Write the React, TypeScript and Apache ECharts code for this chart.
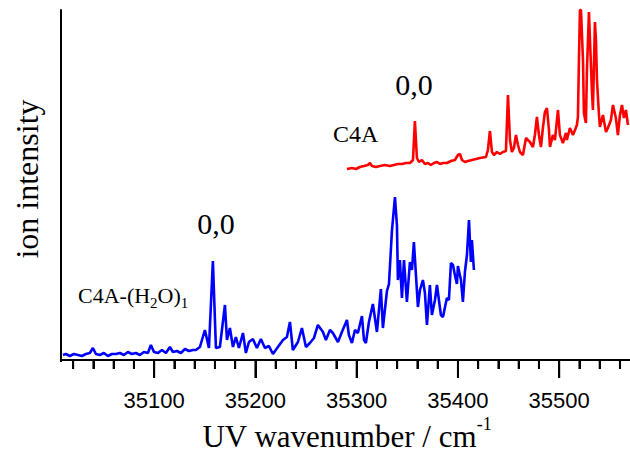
import React, { useEffect, useRef } from "react";
import * as echarts from "echarts";

// C4A-(H2O)1 cluster spectrum (blue)
const blueWavenumber = [
  35009.9, 35012.8, 35016.8, 35020.7, 35024.7, 35028.6, 35032.6, 35036.5, 35039.5, 35042.5,
  35046.4, 35050.4, 35054.3, 35058.3, 35062.2, 35066.2, 35070.1, 35074.1, 35078.0, 35082.0,
  35085.9, 35089.9, 35093.8, 35096.8, 35099.8, 35103.7, 35107.7, 35111.6, 35115.6, 35118.5,
  35122.5, 35126.4, 35130.4, 35134.3, 35138.3, 35141.2, 35145.2, 35150.1, 35154.1, 35158.0,
  35161.0, 35164.9, 35169.9, 35171.9, 35174.8, 35177.8, 35180.7, 35183.7, 35187.7, 35190.6,
  35193.6, 35197.5, 35201.5, 35205.4, 35209.4, 35213.3, 35217.3, 35222.2, 35227.2, 35231.1,
  35234.1, 35237.0, 35242.0, 35245.9, 35249.9, 35253.8, 35257.8, 35261.7, 35266.7, 35269.6,
  35273.6, 35276.5, 35281.5, 35285.4, 35290.4, 35292.3, 35295.3, 35298.3, 35301.2, 35305.2,
  35307.2, 35309.1, 35312.1, 35316.0, 35320.0, 35323.9, 35325.9, 35329.9, 35331.9, 35334.8,
  35337.8, 35339.8, 35340.7, 35342.7, 35344.7, 35346.7, 35349.6, 35352.6, 35354.6, 35356.5,
  35360.5, 35362.5, 35365.4, 35367.4, 35369.4, 35372.3, 35374.3, 35377.3, 35379.3, 35381.2,
  35383.2, 35385.2, 35389.1, 35391.1, 35393.1, 35395.1, 35397.0, 35399.0, 35400.0, 35403.0,
  35404.9, 35406.9, 35408.9, 35410.9, 35412.8, 35413.8, 35415.8,
];
const blueIntensity = [
  5, 6, 4, 6, 5, 4, 6, 7, 12, 6,
  5, 7, 4, 6, 6, 7, 5, 8, 6, 7,
  5, 8, 7, 15, 8, 7, 10, 7, 13, 8,
  9, 7, 11, 9, 10, 10, 13, 30, 12, 99,
  12, 13, 55, 20, 32, 13, 23, 12, 27, 7,
  18, 21, 12, 21, 12, 14, 6, 13, 20, 23,
  38, 10, 18, 32, 13, 17, 22, 35, 28, 20,
  30, 27, 18, 28, 40, 25, 17, 30, 27, 44,
  20, 17, 38, 56, 28, 71, 32, 69, 76, 129,
  163, 134, 80, 100, 62, 100, 58, 98, 90, 118,
  53, 70, 80, 67, 35, 75, 45, 60, 75, 60,
  45, 43, 62, 60, 97, 95, 85, 76, 94, 80,
  58, 88, 105, 140, 98, 120, 90,
];

// C4A monomer spectrum (red), drawn above the cluster trace
const redWavenumber = [
  35290.4, 35295.3, 35299.3, 35303.2, 35307.2, 35311.1, 35313.1, 35315.1, 35319.0, 35323.0,
  35327.9, 35332.8, 35336.8, 35340.7, 35344.7, 35348.6, 35352.6, 35355.6, 35357.5, 35359.5,
  35361.5, 35364.4, 35367.4, 35370.4, 35373.3, 35376.3, 35379.3, 35382.2, 35385.2, 35389.1,
  35393.1, 35397.0, 35400.0, 35402.0, 35404.0, 35406.9, 35409.9, 35413.8, 35417.8, 35421.7,
  35427.7, 35429.6, 35431.6, 35433.6, 35435.6, 35438.5, 35441.5, 35444.4, 35447.4, 35449.4,
  35451.4, 35453.3, 35455.3, 35457.3, 35459.3, 35461.2, 35464.2, 35467.2, 35469.1, 35471.1,
  35474.1, 35476.0, 35478.0, 35480.0, 35482.0, 35483.9, 35485.9, 35487.9, 35489.9, 35490.9,
  35493.8, 35495.8, 35498.8, 35500.7, 35503.7, 35506.7, 35507.6, 35510.6, 35513.6, 35515.6,
  35517.5, 35518.5, 35519.5, 35520.5, 35521.5, 35523.5, 35524.4, 35526.4, 35527.4, 35529.4,
  35530.4, 35532.3, 35533.3, 35535.3, 35536.3, 35537.3, 35539.3, 35540.2, 35543.2, 35546.2,
  35548.1, 35551.1, 35553.1, 35556.0, 35558.0, 35560.0, 35562.0, 35563.9, 35565.9, 35567.9,
];
const redIntensity = [
  191, 192, 191, 193, 194, 195, 197, 194, 193, 194,
  195, 194, 195, 196, 196, 197, 197, 200, 239, 202,
  198, 200, 196, 197, 195, 197, 198, 196, 197, 197,
  199, 200, 205, 206, 200, 198, 199, 200, 201, 202,
  203, 210, 229, 208, 205, 208, 206, 208, 209, 265,
  220, 208, 212, 225, 215, 208, 205, 222, 220, 218,
  213, 225, 243, 225, 213, 232, 248, 252, 230, 213,
  225, 220, 250, 225, 217, 227, 220, 232, 225, 230,
  235, 243, 300, 350, 350, 300, 247, 237, 290, 348,
  320, 270, 250, 338, 320, 280, 245, 233, 245, 228,
  232, 240, 255, 242, 225, 245, 255, 242, 250, 235,
];

// x-axis ticks: labelled majors every 100 cm-1, minors every 20 cm-1
const X_TICKS = [35100, 35200, 35300, 35400, 35500];
const X_MINOR_STEP = 20;
const X_MIN = 35008;
const X_MAX = 35580;
const Y_MAX = 350;

const MAJOR_LEN = 18;
const MINOR_LEN = 9;

const SERIF = '"Liberation Serif", "Times New Roman", serif';
const SANS = '"Liberation Sans", Arial, sans-serif';

const pairs = (xs: number[], ys: number[]) => xs.map((x, i) => [x, ys[i]]);

function tickValues() {
  const out: number[][] = [];
  const start = Math.ceil(X_MIN / X_MINOR_STEP) * X_MINOR_STEP;
  for (let v = start; v < X_MAX; v += X_MINOR_STEP) out.push([v, 0]);
  return out;
}

function textEl(text: string, x: number, y: number, size: number, extra: any = {}) {
  const { style: extraStyle, align, ...rest } = extra;
  return {
    type: "text",
    x,
    y,
    silent: true,
    ...rest,
    style: {
      text,
      fontSize: size,
      fontFamily: SERIF,
      fill: "#000",
      align: align ?? "center",
      verticalAlign: "middle",
      textAlign: align ?? "center",
      textVerticalAlign: "middle",
      ...(extraStyle || {}),
    },
  };
}

export default function App() {
  const ref = useRef<HTMLDivElement>(null);

  useEffect(() => {
    document.body.style.margin = "0";
    if (!ref.current) return;
    const chart = echarts.init(ref.current, null, { renderer: "svg" });

    chart.setOption({
      animation: false,
      grid: {
        left: 61,
        top: 10,
        right: -10.2,
        bottom: 94,
        containLabel: false,
        outerBoundsMode: "none",
      },
      xAxis: {
        type: "value",
        min: X_MIN,
        max: X_MAX,
        splitNumber: 5,
        axisLine: { show: true, lineStyle: { color: "#000", width: 2 } },
        axisTick: { show: true, length: MAJOR_LEN, lineStyle: { color: "#000", width: 2 } },
        minorTick: { show: true, splitNumber: 5, length: MINOR_LEN, lineStyle: { color: "#000", width: 2 } },
        axisLabel: {
          showMinLabel: false,
          showMaxLabel: false,
          margin: 29,
          color: "#000",
          fontSize: 22,
          fontFamily: SANS,
          formatter: (v: number) => String(v),
        },
        splitLine: { show: false },
        minorSplitLine: { show: false },
      },
      yAxis: {
        type: "value",
        min: 0,
        max: Y_MAX,
        axisLine: { show: true, lineStyle: { color: "#000", width: 2 } },
        axisTick: { show: false },
        axisLabel: { show: false },
        splitLine: { show: false },
      },
      series: [
        {
          name: "C4A-(H2O)1",
          type: "line",
          data: pairs(blueWavenumber, blueIntensity),
          showSymbol: false,
          clip: false,
          lineStyle: { color: "#0000ff", width: 2.6 },
          itemStyle: { color: "#0000ff" },
        },
        {
          name: "C4A",
          type: "line",
          data: pairs(redWavenumber, redIntensity),
          showSymbol: false,
          clip: false,
          lineStyle: { color: "#ff0000", width: 2.6 },
          itemStyle: { color: "#ff0000" },
        },
        {
          // tick marks hanging below the x axis, at the same places as the axis ticks
          type: "custom",
          clip: false,
          silent: true,
          data: tickValues(),
          renderItem: (_params: any, api: any) => {
            const v = api.value(0);
            const p = api.coord([v, 0]);
            const len = X_TICKS.includes(v) ? MAJOR_LEN : MINOR_LEN;
            return {
              type: "line",
              shape: { x1: p[0], y1: p[1], x2: p[0], y2: p[1] + len },
              style: { stroke: "#000", lineWidth: 2 },
            };
          },
        },
      ],
      graphic: [
        // hide the extent tick that sits under the y spine
        { type: "rect", shape: { x: 58, y: 362, width: 6, height: 20 }, style: { fill: "#fff" }, z: 100, silent: true },
        // axis titles
        textEl("ion intensity", 27, 179, 32, { rotation: Math.PI / 2 }),
        textEl("UV wavenumber / cm{sup|-1}", 347, 436, 31, {
          style: { rich: { sup: { fontSize: 18, fontFamily: SERIF, fill: "#000", padding: [0, 0, 24, 0] } } },
        }),
        // band origin markers and trace labels
        textEl("0,0", 216, 223, 30),
        textEl("0,0", 414, 84, 30),
        textEl("C4A", 333, 134, 24, { align: "left" }),
        textEl("C4A-(H{sub|2}O){sub|1}", 78, 295, 22, {
          align: "left",
          style: { rich: { sub: { fontSize: 15, fontFamily: SERIF, fill: "#000", padding: [16, 0, 0, 0] } } },
        }),
      ],
    });

    return () => chart.dispose();
  }, []);

  return <div ref={ref} style={{ width: 630, height: 454 }} />;
}
